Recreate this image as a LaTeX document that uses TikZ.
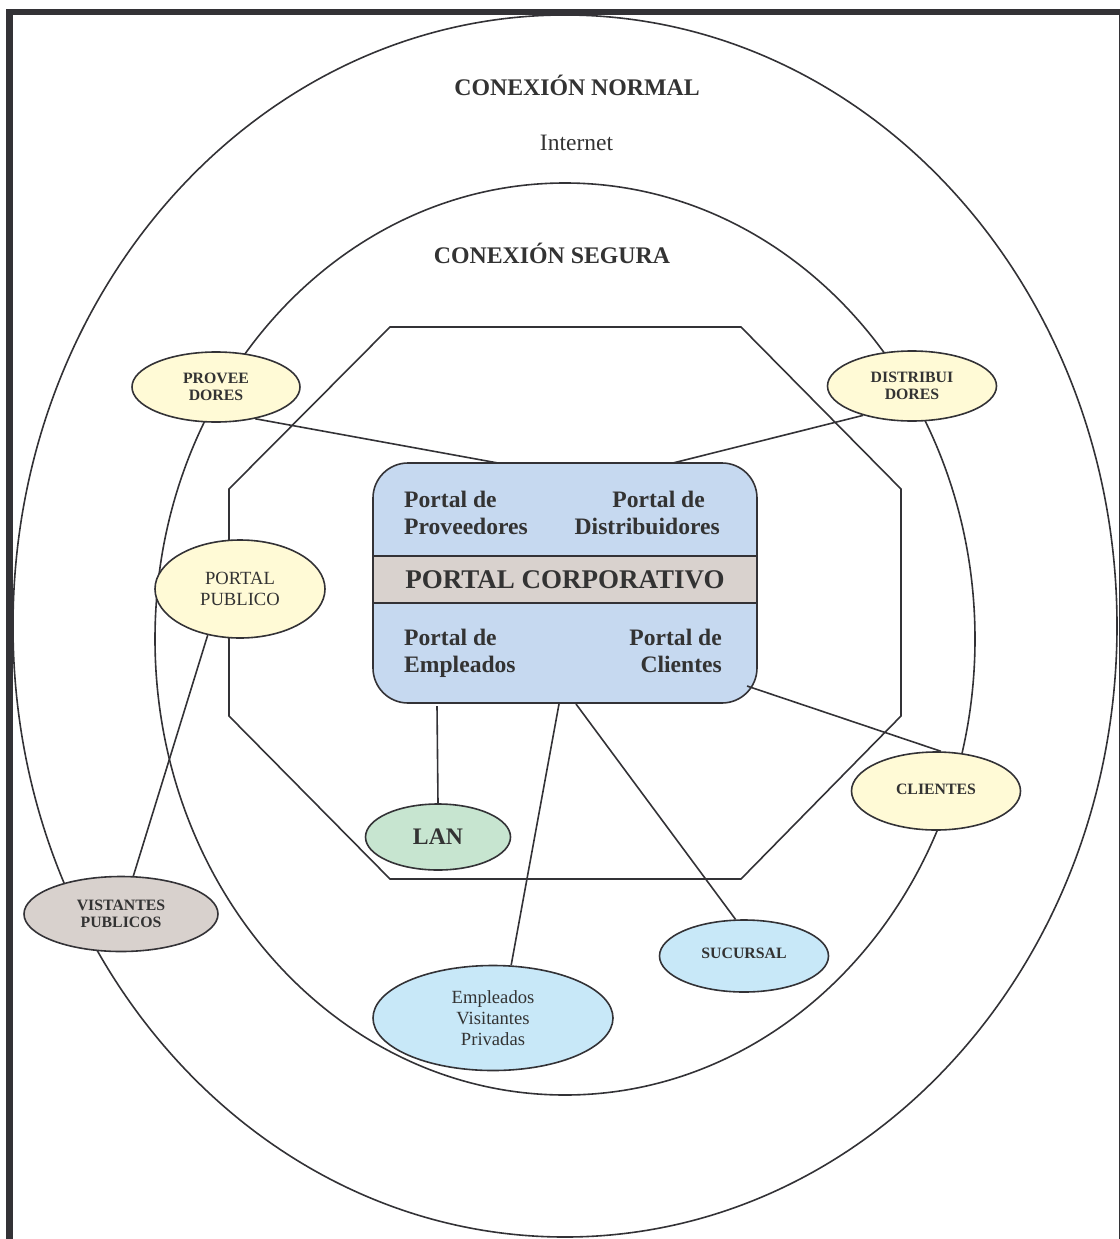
\documentclass[tikz,border=0pt]{standalone}
\usepackage{fontspec}
\setmainfont{Liberation Serif}
\usetikzlibrary{shapes.geometric}
\definecolor{ln}{HTML}{333236}
\definecolor{txt}{HTML}{333333}
\definecolor{boxblue}{HTML}{C6D9F0}
\definecolor{bandgray}{HTML}{D9D2CE}
\definecolor{yel}{HTML}{FFFAD6}
\definecolor{grn}{HTML}{C7E5D0}
\definecolor{gry}{HTML}{D8D1CD}
\definecolor{lblue}{HTML}{C8E8F8}
\tikzset{
  x=1pt, y=-1pt,
  ol/.style={line width=1.6pt, draw=ln},
  oval/.style={ellipse, draw=ln, line width=1.6pt, inner sep=0pt, align=center, text=txt},
  smallb/.style={font=\fontsize{15.8}{17.5}\selectfont\bfseries},
  smallr/.style={font=\fontsize{18.6}{21}\selectfont},
  portal/.style={inner sep=0pt, text=txt, font=\fontsize{23.6}{27}\selectfont\bfseries},
  title/.style={inner sep=0pt, text=txt, font=\fontsize{23.8}{27}\selectfont\bfseries, anchor=base},
  conn/.style={line width=1.6pt, draw=ln},
}
\begin{document}
\begin{tikzpicture}
\useasboundingbox (0,0) rectangle (1119,1239);
% frame
\draw[line width=6.5pt, draw=ln] (9.5,12) rectangle (1122.5,1260);
% big ellipses
\draw[ol] (565,626) ellipse [x radius=552pt, y radius=611pt];
\draw[ol] (565,639) ellipse [x radius=410pt, y radius=456pt];
% octagon
\draw[ol] (390,327) -- (741,327) -- (901,489) -- (901,716) -- (741,879) -- (390,879) -- (229,716) -- (229,489) -- cycle;
% titles
\node[title] (cn) at (577,95) {CONEXIÓN NORMAL};
\node[title, font=\fontsize{23.5}{27}\selectfont] (inet) at (576.5,150) {Internet};
\node[title] (cs) at (552,263) {CONEXIÓN SEGURA};
% central box
\node[draw=ln, line width=1.6pt, fill=boxblue, rounded corners=35pt, minimum width=384pt, minimum height=240pt, inner sep=0pt] (box) at (565,583) {};
\node[draw=ln, line width=1.6pt, fill=bandgray, minimum width=384pt, minimum height=47pt, inner sep=0pt, text=txt, font=\fontsize{27}{30}\selectfont\bfseries] (band) at (565,579.5) {PORTAL CORPORATIVO};
\node[portal, anchor=north west, align=left] (pp) at (404,491) {Portal de\\Proveedores};
\node[portal, anchor=north east, align=right] (pd) at (720,491) {Portal de\hspace*{15pt}\\Distribuidores};
\node[portal, anchor=north west, align=left] (pe) at (404,629) {Portal de\\Empleados};
\node[portal, anchor=north east, align=right] (pc) at (722,629) {Portal de\\Clientes};
% attach points on the box
\coordinate (bprov) at (498,463);
\coordinate (bdist) at (673,463);
\coordinate (bcli) at (747,686);
\coordinate (blan) at (437,706);
\coordinate (bemp) at (559,704);
\coordinate (bsuc) at (576,704);
% small ellipses
\node[oval, fill=yel, smallb, minimum width=168pt, minimum height=70pt] (prov) at (216,387) {PROVEE\\DORES};
\node[oval, fill=yel, smallb, minimum width=169pt, minimum height=70pt] (dist) at (912,386) {DISTRIBUI\\DORES};
\node[oval, fill=yel, smallr, minimum width=170pt, minimum height=98pt] (pub) at (240,589) {PORTAL\\PUBLICO};
\node[oval, fill=yel, smallb, minimum width=169pt, minimum height=78pt] (cli) at (936,791) {\raisebox{4pt}{CLIENTES}};
\node[oval, fill=grn, minimum width=145pt, minimum height=66pt, font=\fontsize{23.7}{27}\selectfont\bfseries] (lan) at (438,837) {LAN};
\node[oval, fill=gry, smallb, minimum width=194pt, minimum height=75pt] (vis) at (121,914) {VISTANTES\\PUBLICOS};
\node[oval, fill=lblue, smallb, minimum width=169pt, minimum height=72pt] (suc) at (744,956) {\raisebox{5pt}{SUCURSAL}};
\node[oval, fill=lblue, smallr, minimum width=240pt, minimum height=105pt] (emp) at (493,1018) {Empleados\\Visitantes\\Privadas};
% connectors
\draw[conn] (prov.-39) -- (bprov);
\draw[conn] (dist.-149) -- (bdist);
\draw[conn] (pub.-125) -- (vis.72);
\draw[conn] (bcli) -- (cli.83);
\draw[conn] (blan) -- (lan.north);
\draw[conn] (bemp) -- (emp.71);
\draw[conn] (bsuc) -- (suc.103);
\end{tikzpicture}
\end{document}
